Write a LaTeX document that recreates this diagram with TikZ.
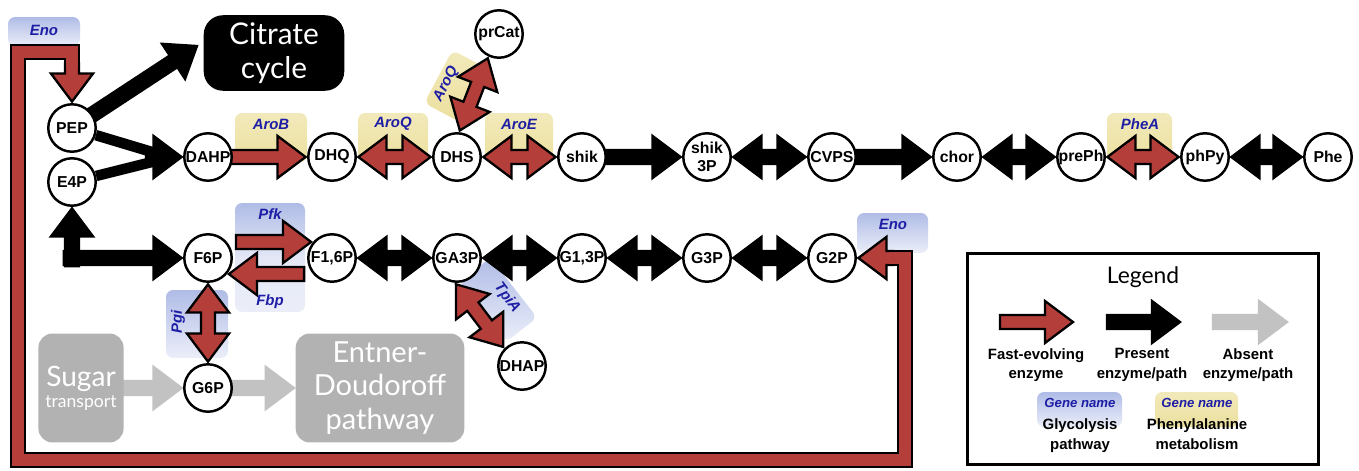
\documentclass[tikz,border=0pt]{standalone}
\usepackage{fontspec}
\setmainfont{Liberation Sans}
\newfontfamily\gillfont{Lato}
\usepackage{tikz}
\usetikzlibrary{calc,positioning,backgrounds}
\definecolor{arrowred}{RGB}{180,62,58}
\definecolor{genetext}{RGB}{30,30,165}
\definecolor{glyblue}{RGB}{176,188,230}
\definecolor{pheyel}{RGB}{236,224,158}
\definecolor{boxgrey}{RGB}{178,178,178}
\definecolor{absgrey}{RGB}{194,194,194}
\tikzset{met/.style={circle,draw,line width=1.4pt,fill=white,minimum size=27pt,inner sep=0pt,align=center,font=\fontsize{9}{10}\selectfont\bfseries}}
\tikzset{gene/.style={text=genetext,inner sep=0pt,font=\fontsize{8.5}{9}\selectfont\bfseries\itshape}}
\tikzset{lgtext/.style={inner sep=0pt,align=center,font=\fontsize{8.5}{11}\selectfont\bfseries}}
\tikzset{bigbox/.style={rounded corners=8pt,text=white,inner sep=0pt,align=center,font=\gillfont}}
\tikzset{glybox/.style={rounded corners=4pt,top color=glyblue,bottom color=glyblue!25}}
\tikzset{phebox/.style={rounded corners=4pt,top color=pheyel!70,bottom color=pheyel}}
\tikzset{shw/.store in=\shw,hdw/.store in=\hdw,hdl/.store in=\hdl,gapA/.store in=\gapA,gapB/.store in=\gapB,
  shw=4pt,hdw=12pt,hdl=16pt,gapA=12pt,gapB=15pt}
\tikzset{fwd/.style={gapA=12pt,gapB=15pt,draw=black,line width=1.3pt,line join=miter,fill=#1,
  to path={($(\tikztostart)!\gapA!(\tikztotarget)!\shw!90:(\tikztotarget)$)
    -- ($(\tikztotarget)!\gapB+\hdl!(\tikztostart)!\shw!-90:(\tikztostart)$)
    -- ($(\tikztotarget)!\gapB+\hdl!(\tikztostart)!\hdw!-90:(\tikztostart)$)
    -- ($(\tikztotarget)!\gapB!(\tikztostart)$)
    -- ($(\tikztotarget)!\gapB+\hdl!(\tikztostart)!\hdw!90:(\tikztostart)$)
    -- ($(\tikztotarget)!\gapB+\hdl!(\tikztostart)!\shw!90:(\tikztostart)$)
    -- ($(\tikztostart)!\gapA!(\tikztotarget)!\shw!-90:(\tikztotarget)$) -- cycle}}}
\tikzset{bid/.style={gapA=15pt,gapB=15pt,draw=black,line width=1.3pt,line join=miter,fill=#1,
  to path={($(\tikztostart)!\gapA!(\tikztotarget)$)
    -- ($(\tikztostart)!\gapA+\hdl!(\tikztotarget)!\hdw!90:(\tikztotarget)$)
    -- ($(\tikztostart)!\gapA+\hdl!(\tikztotarget)!\shw!90:(\tikztotarget)$)
    -- ($(\tikztotarget)!\gapB+\hdl!(\tikztostart)!\shw!-90:(\tikztostart)$)
    -- ($(\tikztotarget)!\gapB+\hdl!(\tikztostart)!\hdw!-90:(\tikztostart)$)
    -- ($(\tikztotarget)!\gapB!(\tikztostart)$)
    -- ($(\tikztotarget)!\gapB+\hdl!(\tikztostart)!\hdw!90:(\tikztostart)$)
    -- ($(\tikztotarget)!\gapB+\hdl!(\tikztostart)!\shw!90:(\tikztostart)$)
    -- ($(\tikztostart)!\gapA+\hdl!(\tikztotarget)!\shw!-90:(\tikztotarget)$)
    -- ($(\tikztostart)!\gapA+\hdl!(\tikztotarget)!\hdw!-90:(\tikztotarget)$) -- cycle}}}
\tikzset{band/.style={draw=black,line width=1.3pt,double=arrowred,double distance=6.7pt,line join=miter}}

\begin{document}
\begin{tikzpicture}[x=0.02cm,y=-0.02cm]
        \useasboundingbox (0,0) rectangle (1359,470);
        % metabolites
        \node[met] (pep) at (72,128) {PEP};
        \node[met] (e4p) at (72,182) {E4P};
        \node[met] (dahp) at (208,157) {DAHP};
        \node[met] (dhq) at (332,157) {DHQ};
        \node[met] (dhs) at (457,157) {DHS};
        \node[met] (prcat) at (499,34) {prCat};
        \node[met] (shik) at (582,157) {shik};
        \node[met] (shik3p) at (707,157) {shik\\3P};
        \node[met] (cvps) at (832,157) {CVPS};
        \node[met] (chor) at (957,157) {chor};
        \node[met] (preph) at (1081,157) {prePh};
        \node[met] (phpy) at (1205,157) {phPy};
        \node[met] (phe) at (1328,157) {Phe};
        \node[met] (f6p) at (208,258) {F6P};
        \node[met] (f16p) at (332,258) {F1,6P};
        \node[met] (ga3p) at (457,258) {GA3P};
        \node[met] (g13p) at (582,258) {G1,3P};
        \node[met] (g3p) at (707,258) {G3P};
        \node[met] (g2p) at (832,258) {G2P};
        \node[met] (g6p) at (208,388) {G6P};
        \node[met] (dhap) at (522,366) {DHAP};

        % pathways
        \node[bigbox,fill=black,rounded corners=11pt,minimum width=80pt,minimum height=43pt,font=\gillfont\fontsize{17}{19}\selectfont] (cit) at (274,53) {Citrate\\cycle};
        \node[bigbox,fill=boxgrey,minimum width=48.5pt,minimum height=62pt] (sug) at (81,388) {\fontsize{16}{16}\selectfont Sugar\\\fontsize{10}{12.5}\selectfont transport};
        \node[bigbox,fill=boxgrey,minimum width=96pt,minimum height=62pt,font=\gillfont\fontsize{16.5}{19}\selectfont] (edp) at (380,388) {Entner-\\Doudoroff\\pathway};

        \coordinate (citw) at (197,46);
        \coordinate (mrg) at (146,157);
        \coordinate (mrgA) at (152,152);
        \coordinate (mrgB) at (152,162);
        \coordinate (bend) at (72,258);
        \coordinate (lp0) at (72,63);
        \coordinate (lp1) at (72,67);
        \coordinate (lp2) at (72,52);
        \coordinate (lp3) at (18,52);
        \coordinate (lp4) at (18,460);
        \coordinate (lp5) at (905,460);
        \coordinate (lp6) at (905,258);
        \coordinate (lp7) at (889,258);
        \coordinate (lp8) at (893,258);

        % gene names
        \node[gene] (enoA) at (44,30) {Eno};
        \node[gene] (arob) at (271,124) {AroB};
        \node[gene] (aroq) at (393,124) {AroQ};
        \node[gene,rotate=63] (aroqb) at (446,84) {AroQ};
        \node[gene] (aroe) at (519,124) {AroE};
        \node[gene] (phea) at (1140,124) {PheA};
        \node[gene] (pfk) at (270,214) {Pfk};
        \node[gene] (fbp) at (270,302) {Fbp};
        \node[gene,rotate=90] (pgi) at (178,322) {Pgi};
        \node[gene,rotate=-54] (tpia) at (507,298) {TpiA};
        \node[gene] (enoB) at (893,224) {Eno};

        % legend
        \node[draw,line width=1.4pt,minimum width=200pt,minimum height=120pt,inner sep=0pt] (leg) at (1143,359) {};
        \node[inner sep=0pt,font=\gillfont\fontsize{13}{13}\selectfont,below=8pt of leg.north] (legt) {Legend};
        \coordinate (lgr1) at (1000,322);
        \coordinate (lgr2) at (1073,322);
        \coordinate (lgk1) at (1107,322);
        \coordinate (lgk2) at (1180,322);
        \coordinate (lgg1) at (1213,322);
        \coordinate (lgg2) at (1287,322);
        \node[lgtext] (lgrt) at (1036,365) {Fast-evolving\\enzyme};
        \node[lgtext] (lgkt) at (1142,365) {Present\\enzyme/path};
        \node[lgtext] (lggt) at (1248,365) {Absent\\enzyme/path};
        \node[gene,font=\fontsize{7.5}{8}\selectfont\bfseries\itshape] (lgb) at (1080,403) {Gene name};
        \node[gene,font=\fontsize{7.5}{8}\selectfont\bfseries\itshape] (lgy) at (1197,403) {Gene name};
        \node[lgtext,below=6pt of lgb] (lgbt) {Glycolysis\\pathway};
        \node[lgtext,below=6pt of lgy] (lgyt) {Phenylalanine\\metabolism};

        \begin{scope}[on background layer]
        % gene boxes
        \path[glybox] (8,17) rectangle (80,46);
        \path[phebox] (235,113) rectangle (307,162);
        \path[phebox] (358,113) rectangle (428,162);
        \path[phebox] (485,113) rectangle (553,162);
        \path[phebox] (1107,113) rectangle (1172,162);
        \path[phebox,rotate around={62:(456,86)}] (426,66) rectangle (486,106);
        \path[glybox,middle color=glyblue!35] (235,203) rectangle (305,312);
        \path[glybox] (166,290) rectangle (228,358);
        \path[glybox,rotate around={-52:(498,300)}] (460,280) rectangle (536,320);
        \path[glybox] (857,213) rectangle (928,253);
        \path[glybox] (1037,392) rectangle (1122,427);
        \path[phebox] (1155,392) rectangle (1238,427);

        % upper row
        \draw [line width=6pt] (pep) -- (mrgA);
        \draw [line width=6pt] (e4p) -- (mrgB);
        \draw [fwd=black,gapA=0pt] (mrg) to (dahp);
        \draw [fwd=black,gapB=0pt] (pep) to (citw);
        \draw [fwd=arrowred] (dahp) to (dhq);
        \draw [bid=arrowred] (dhq) to (dhs);
        \draw [bid=arrowred] (dhs) to (shik);
        \draw [bid=arrowred,gapA=1pt,gapB=1pt] (dhs.85) to (prcat.-115);
        \draw [fwd=black] (shik) to (shik3p);
        \draw [bid=black] (shik3p) to (cvps);
        \draw [fwd=black] (cvps) to (chor);
        \draw [bid=black] (chor) to (preph);
        \draw [bid=arrowred] (preph) to (phpy);
        \draw [bid=black] (phpy) to (phe);

        % lower row
        \draw [fwd=black,gapA=-4.65pt] (bend) to (e4p);
        \draw [fwd=black,gapA=-4.65pt] (bend) to (f6p);
        \draw [fwd=arrowred,gapA=5pt,gapB=1pt] (f6p.40) to (f16p.140);
        \draw [fwd=arrowred,gapA=5pt,gapB=1pt] (f16p.-140) to (f6p.-40);
        \draw [bid=arrowred] (f6p) to (g6p);
        \draw [bid=black] (f16p) to (ga3p);
        \draw [bid=black] (ga3p) to (g13p);
        \draw [bid=black] (g13p) to (g3p);
        \draw [bid=black] (g3p) to (g2p);
        \draw [bid=arrowred,gapA=1pt,gapB=1pt] (ga3p.-95) to (dhap.135);
        \draw [fwd=absgrey,draw=absgrey,gapA=22pt] (sug) to (g6p);
        \draw [fwd=absgrey,draw=absgrey,gapB=49pt] (g6p) to (edp);

        % enolase loop
        \draw [fwd=arrowred,gapA=0pt] (lp0) to (pep);
        \draw [fwd=arrowred,gapA=0pt] (lp8) to (g2p);
        \draw [band] (lp1) -- (lp2) -- (lp3) -- (lp4) -- (lp5) -- (lp6) -- (lp7);

        % legend arrows
        \draw [fwd=arrowred,gapA=0pt,gapB=0pt] (lgr1) to (lgr2);
        \draw [fwd=black,gapA=0pt,gapB=0pt] (lgk1) to (lgk2);
        \draw [fwd=absgrey,draw=absgrey,gapA=0pt,gapB=0pt] (lgg1) to (lgg2);
        \end{scope}
    \end{tikzpicture}
\end{document}
